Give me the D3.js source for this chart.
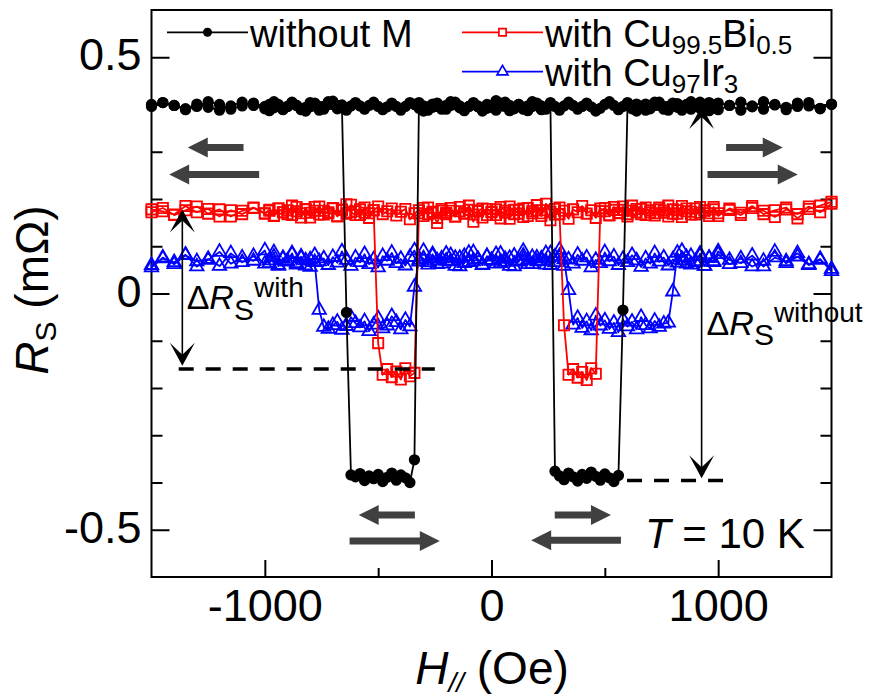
<!DOCTYPE html>
<html>
<head>
<meta charset="utf-8">
<script src="https://cdnjs.cloudflare.com/ajax/libs/d3/7.8.5/d3.min.js"></script>
<style>
  html, body { margin: 0; padding: 0; background: #fff; }
  svg { display: block; font-family: "Liberation Sans", Arial, Helvetica, sans-serif; }
  text { white-space: pre; }
</style>
</head>
<body>
<svg id="chart" width="879" height="697"></svg>
<script>
// Field sweep from +1500 Oe down to -1500 Oe (coarse steps beyond |H| = 1000 Oe)
const fieldDown = [1500,1450,1400,1350,1300,1250,1200,1150,1100,1050,1000,980,960,940,920,900,880,860,840,820,800,780,760,740,720,700,680,660,640,620,600,580,560,540,520,500,480,460,440,420,400,380,360,340,320,300,280,260,240,220,200,180,160,140,120,100,80,60,40,20,0,-20,-40,-60,-80,-100,-120,-140,-160,-180,-200,-220,-240,-260,-280,-300,-320,-340,-360,-380,-400,-420,-440,-460,-480,-500,-520,-540,-560,-580,-600,-620,-640,-660,-680,-700,-720,-740,-760,-780,-800,-820,-840,-860,-880,-900,-920,-940,-960,-980,-1000,-1050,-1100,-1150,-1200,-1250,-1300,-1350,-1400,-1450,-1500];
// Return sweep from -1500 Oe up to +1500 Oe
const fieldUp = [-1500,-1450,-1400,-1350,-1300,-1250,-1200,-1150,-1100,-1050,-1000,-980,-960,-940,-920,-900,-880,-860,-840,-820,-800,-780,-760,-740,-720,-700,-680,-660,-640,-620,-600,-580,-560,-540,-520,-500,-480,-460,-440,-420,-400,-380,-360,-340,-320,-300,-280,-260,-240,-220,-200,-180,-160,-140,-120,-100,-80,-60,-40,-20,0,20,40,60,80,100,120,140,160,180,200,220,240,260,280,300,320,340,360,380,400,420,440,460,480,500,520,540,560,580,600,620,640,660,680,700,720,740,760,780,800,820,840,860,880,900,920,940,960,980,1000,1050,1100,1150,1200,1250,1300,1350,1400,1450,1500];

// Nonlocal spin signal R_S (mOhm), without middle wire
const blackDown = [0.400,0.392,0.404,0.396,0.389,0.399,0.406,0.395,0.388,0.398,0.403,
  0.394,0.387,0.397,0.405,0.396,0.390,0.400,0.393,0.402,0.397,
  0.388,0.396,0.405,0.398,0.391,0.401,0.394,0.386,0.397,0.404,
  0.396,0.389,0.398,0.406,0.400,0.392,0.386,0.395,0.403,0.396,
  0.390,0.398,0.405,0.397,0.388,0.396,0.404,0.394,0.389,0.399,
  0.406,0.397,0.390,0.400,0.394,0.387,0.396,0.403,0.408,0.398,
  0.392,0.386,0.395,0.401,0.396,0.389,0.397,0.405,0.398,0.390,
  0.396,0.403,0.394,0.388,0.397,0.404,
  -0.352,
  -0.400,-0.390,-0.384,-0.395,-0.380,-0.389,-0.398,-0.383,-0.392,-0.386,-0.396,-0.381,-0.388,-0.384,
  -0.040,
  0.399,0.391,0.400,0.406,0.396,0.388,0.397,0.404,0.394,0.389,0.398,0.405,0.396,0.390,0.400,0.393,0.387,0.396,
  0.403,0.397,0.390,0.400,0.406,0.396,0.389,0.398,0.404,0.400];
const blackUp = [0.396,0.404,0.398,0.391,0.401,0.394,0.388,0.397,0.405,0.398,0.391,
  0.400,0.406,0.397,0.389,0.396,0.404,0.398,0.391,0.386,0.395,
  0.403,0.396,0.390,0.400,0.407,0.398,0.393,0.388,0.397,0.404,
  0.397,0.390,0.398,0.405,0.396,0.389,0.395,0.403,0.396,0.388,
  0.396,0.404,0.400,0.392,0.386,0.395,0.401,0.396,0.390,0.398,
  0.406,0.400,0.393,0.387,0.396,0.404,0.397,0.390,0.400,0.394,
  0.388,0.397,0.405,0.398,0.391,0.400,0.394,0.387,0.396,0.403,
  0.397,0.390,0.398,
  -0.376,-0.386,-0.394,-0.380,-0.388,-0.397,-0.383,-0.391,-0.378,-0.387,-0.395,-0.382,-0.390,-0.398,-0.385,
  -0.035,
  0.398,0.391,0.401,0.394,0.388,0.397,0.405,0.398,0.390,0.396,0.403,0.394,0.388,0.398,0.406,0.400,0.392,0.397,0.404,0.396,0.389,
  0.398,0.405,0.397,0.390,0.400,0.394,0.403,0.397,0.391,0.401];

// With Cu99.5Bi0.5 middle wire
const redDown = [0.190,0.172,0.184,0.168,0.178,0.162,0.175,0.181,0.166,0.177,0.170,
  0.183,0.164,0.176,0.171,0.180,0.167,0.174,0.185,0.169,0.178,
  0.163,0.175,0.182,0.170,0.176,0.166,0.179,0.172,0.186,0.168,
  0.177,0.171,0.183,0.165,0.174,0.180,0.160,0.176,0.169,0.185,
  0.172,0.178,0.158,0.175,0.182,0.167,0.173,0.190,0.164,0.176,
  0.170,0.181,0.162,0.177,0.168,0.184,0.171,0.159,0.178,0.173,
  0.166,0.180,0.174,0.152,0.177,0.169,0.183,0.163,0.175,0.171,
  0.179,0.160,0.173,0.168,0.181,0.170,
  -0.168,-0.175,-0.158,-0.182,-0.165,-0.177,-0.160,-0.172,
  -0.105,
  0.176,0.170,0.182,0.166,0.174,0.188,0.169,0.177,0.163,0.180,0.172,0.167,0.184,0.175,0.161,0.178,0.170,0.183,0.166,0.176,0.172,0.180,0.164,0.175,0.169,
  0.181,0.168,0.176,0.163,0.179,0.172,0.185,0.167,0.174,0.178];
const redUp = [0.172,0.181,0.166,0.176,0.184,0.169,0.178,0.163,0.175,0.182,0.170,
  0.177,0.165,0.180,0.172,0.168,0.186,0.174,0.161,0.179,0.171,
  0.183,0.167,0.175,0.170,0.181,0.164,0.177,0.189,0.172,0.166,
  0.178,0.171,0.160,0.176,0.184,0.168,0.174,0.180,0.165,0.173,
  0.179,0.157,0.170,0.176,0.164,0.182,0.171,0.149,0.175,0.168,
  0.181,0.163,0.174,0.170,0.186,0.167,0.176,0.161,0.179,0.172,
  0.166,0.183,0.175,0.158,0.177,0.169,0.180,0.164,0.174,0.187,
  0.170,0.176,0.155,0.179,0.168,
  -0.067,
  -0.172,-0.160,-0.178,-0.166,-0.183,-0.158,-0.170,
  0.174,0.181,0.166,0.177,0.170,0.184,0.163,0.175,0.179,0.168,0.182,0.172,0.165,0.178,0.171,0.186,0.169,0.176,0.162,0.180,0.173,0.167,0.183,0.175,0.170,0.178,0.164,
  0.180,0.171,0.185,0.168,0.176,0.182,0.159,0.179,0.186,0.194];

// With Cu97Ir3 middle wire
const blueDown = [0.052,0.071,0.060,0.078,0.064,0.088,0.069,0.057,0.074,0.062,0.083,
  0.066,0.075,0.058,0.080,0.068,0.061,0.077,0.090,0.065,0.072,
  0.059,0.076,0.067,0.085,0.063,0.074,0.056,0.070,0.081,0.066,
  0.073,0.060,0.078,0.068,0.087,0.064,0.071,0.055,0.076,0.069,
  0.082,0.063,0.072,0.058,0.079,0.066,0.085,0.061,0.074,0.068,
  0.077,0.062,0.080,0.070,0.057,0.075,0.067,0.084,0.063,0.071,
  0.079,0.060,0.073,0.068,0.086,0.064,0.075,0.058,0.081,0.069,
  0.074,0.062,0.083,0.066,0.090,0.071,
  0.014,
  -0.070,-0.056,-0.076,-0.061,-0.048,-0.068,-0.074,-0.053,-0.066,-0.080,-0.059,-0.072,-0.063,-0.050,-0.069,-0.077,-0.060,-0.067,-0.075,-0.071,
  -0.035,
  0.066,0.072,0.059,0.078,0.064,0.083,0.069,0.075,0.060,0.087,0.070,0.063,
  0.079,0.066,0.085,0.058,0.073,0.068,0.081,0.062,0.076,0.055];
const blueUp = [0.060,0.074,0.066,0.082,0.057,0.071,0.088,0.063,0.076,0.069,0.091,
  0.064,0.078,0.058,0.073,0.067,0.085,0.061,0.075,0.070,0.056,
  0.081,0.068,0.074,0.060,0.077,0.065,0.089,0.071,0.058,0.076,
  0.066,0.083,0.062,0.072,0.055,0.079,0.069,0.086,0.064,0.073,
  0.059,0.077,0.091,0.067,0.074,0.061,0.080,0.070,0.063,0.084,
  0.068,0.075,0.057,0.079,0.066,0.087,0.072,0.061,0.078,0.069,
  0.083,0.064,0.073,0.058,0.080,0.067,0.090,0.071,0.062,0.076,
  0.069,0.085,0.060,0.078,0.092,0.072,
  0.007,
  -0.066,-0.052,-0.073,-0.059,-0.078,-0.047,-0.068,-0.057,-0.075,-0.062,-0.082,-0.055,-0.070,-0.060,-0.076,-0.050,-0.067,-0.074,-0.058,-0.071,-0.064,-0.062,
  0.004,
  0.086,0.070,0.063,0.079,0.066,0.084,0.058,0.075,0.068,0.089,
  0.071,0.064,0.080,0.057,0.076,0.068,0.085,0.062,0.073,0.047];

const xTicksMajor = [-1000, 0, 1000];
const xTicksMinor = [-500, 500];
const yTicksMajor = [-0.5, 0, 0.5];
const yTicksMinor = [-0.4, -0.3, -0.2, -0.1, 0.1, 0.2, 0.3, 0.4];

// Magnetisation-direction arrows of the two ferromagnets: [tail H, tip H, R]
const magnetArrows = [
  [-1094, -1340, 0.309], [-1025, -1422, 0.252],
  [1035, 1285, 0.309], [953, 1351, 0.252],
  [-338, -586, -0.469], [-626, -228, -0.524],
  [279, 527, -0.469], [571, 175, -0.522]
];
// Spin-signal amplitude markers: [H, R top, R bottom]
const deltaWith = [-1364, 0.178, -0.153];
const deltaWithout = [927, 0.397, -0.391];
// Dashed reference levels: [H start, H end, R]
const refLevels = [[-1380, -250, -0.160], [598, 1038, -0.396]];

const svg = d3.select("#chart");
const x = d3.scaleLinear().domain([-1500, 1500]).range([151.5, 831.5]);
const y = d3.scaleLinear().domain([-0.6, 0.6]).range([577, 10]);
const FONT = 45;

// ---- frame and ticks ----
const axes = svg.append("g");
function styleAxis(g) {
  g.select(".domain").remove();
  g.selectAll(".tick line").attr("stroke", "#000").attr("stroke-width", 2);
  g.selectAll("text").attr("fill", "#000").attr("font-size", FONT).attr("font-family", null);
}
axes.append("g").attr("transform", "translate(0,577)")
  .call(d3.axisBottom(x).tickValues(xTicksMajor).tickSize(-17).tickSizeOuter(0).tickPadding(12).tickFormat(d => String(d)))
  .call(styleAxis);
axes.append("g").attr("transform", "translate(0,577)")
  .call(d3.axisBottom(x).tickValues(xTicksMinor).tickSize(-9).tickSizeOuter(0).tickFormat(""))
  .call(styleAxis);
axes.append("g").attr("transform", "translate(151.5,0)")
  .call(d3.axisLeft(y).tickValues(yTicksMajor).tickSize(-18).tickSizeOuter(0).tickPadding(10).tickFormat(d => String(d)))
  .call(styleAxis)
  .call(g => g.selectAll("text").attr("dy", "0.28em"));
axes.append("g").attr("transform", "translate(151.5,0)")
  .call(d3.axisLeft(y).tickValues(yTicksMinor).tickSize(-11).tickSizeOuter(0).tickFormat(""))
  .call(styleAxis);
axes.append("g").attr("transform", "translate(831.5,0)")
  .call(d3.axisRight(y).tickValues(yTicksMajor).tickSize(-18).tickSizeOuter(0).tickFormat(""))
  .call(styleAxis);
axes.append("g").attr("transform", "translate(831.5,0)")
  .call(d3.axisRight(y).tickValues(yTicksMinor).tickSize(-11).tickSizeOuter(0).tickFormat(""))
  .call(styleAxis);
svg.append("rect").attr("x", x(-1500)).attr("y", y(0.6))
  .attr("width", x(1500) - x(-1500)).attr("height", y(-0.6) - y(0.6))
  .attr("fill", "none").attr("stroke", "#000").attr("stroke-width", 2);

// ---- rich text helper (italic / sub / superscript runs) ----
function rich(parent, px, py, parts, anchor) {
  const t = parent.append("text").attr("x", px).attr("y", py)
    .attr("text-anchor", anchor || "start").attr("fill", "#000");
  parts.forEach(p => {
    const s = t.append("tspan").text(p.t).attr("font-size", p.size);
    if (p.italic) s.attr("font-style", "italic");
    if (p.dy) s.attr("dy", p.dy);
  });
  return t;
}

// ---- magnetisation arrows (grey block arrows) ----
const arrowG = svg.append("g").attr("fill", "#404040");
magnetArrows.forEach(([h0, h1, r]) => {
  const x0 = x(h0), x1 = x(h1), yy = y(r);
  const dir = Math.sign(x1 - x0), head = 20, hw = 10, sw = 3.5;
  const xb = x1 - dir * head;
  const pts = [[x0, yy - sw], [xb, yy - sw], [xb, yy - hw], [x1, yy], [xb, yy + hw], [xb, yy + sw], [x0, yy + sw]];
  arrowG.append("path").attr("d", "M" + pts.map(p => p.join(",")).join("L") + "Z");
});

// ---- data ----
function sweep(fields, values) { return fields.map((h, i) => ({ h: h, r: values[i] })); }
const series = [
  { name: "with Cu97Ir3", color: "#0000ff", symbol: d3.symbolTriangle, size: 78, fill: "none",
    pts: sweep(fieldDown, blueDown).concat(sweep(fieldUp, blueUp)) },
  { name: "with Cu99.5Bi0.5", color: "#ff0000", symbol: d3.symbolSquare, size: 105, fill: "none",
    pts: sweep(fieldDown, redDown).concat(sweep(fieldUp, redUp)) },
  { name: "without M", color: "#000000", symbol: d3.symbolCircle, size: 100, fill: "#000000",
    pts: sweep(fieldDown, blackDown).concat(sweep(fieldUp, blackUp)) }
];
const line = d3.line().x(d => x(d.h)).y(d => y(d.r));
series.forEach(s => {
  const g = svg.append("g");
  g.append("path").datum(s.pts).attr("d", line)
    .attr("fill", "none").attr("stroke", s.color).attr("stroke-width", 1.8).attr("stroke-linejoin", "round");
  g.selectAll("path.pt").data(s.pts).join("path").attr("class", "pt")
    .attr("transform", d => `translate(${x(d.h)},${y(d.r)})`)
    .attr("d", d3.symbol().type(s.symbol).size(s.size))
    .attr("fill", s.fill)
    .attr("stroke", s.fill === "none" ? s.color : "none")
    .attr("stroke-width", 1.8);
});

// ---- dashed reference levels ----
refLevels.forEach(([h0, h1, r]) => {
  svg.append("line").attr("x1", x(h0)).attr("x2", x(h1)).attr("y1", y(r)).attr("y2", y(r))
    .attr("stroke", "#000").attr("stroke-width", 3.5).attr("stroke-dasharray", "15,12");
});

// ---- double-headed amplitude arrows ----
function headPath(tx, ty, dirY) {
  const len = 23, half = 12.5, notch = 11;
  const by = ty - dirY * len;
  return `M${tx},${ty}L${tx + half},${by}L${tx},${ty - dirY * notch}L${tx - half},${by}Z`;
}
[deltaWith, deltaWithout].forEach(([h, rTop, rBot]) => {
  const xx = x(h), yt = y(rTop), yb = y(rBot);
  svg.append("line").attr("x1", xx).attr("x2", xx).attr("y1", yt + 10).attr("y2", yb - 10)
    .attr("stroke", "#000").attr("stroke-width", 1.6);
  svg.append("path").attr("d", headPath(xx, yt, -1)).attr("fill", "#000");
  svg.append("path").attr("d", headPath(xx, yb, 1)).attr("fill", "#000");
});

// ---- annotation labels ----
rich(svg, x(-1345), y(-0.0334), [
  { t: "\u0394", size: 34 }, { t: "R", size: 34, italic: true },
  { t: "S", size: 30, dy: 10.7 }, { t: "with", size: 28, dy: -23.3 }]);
rich(svg, x(949), y(-0.0878), [
  { t: "\u0394", size: 34 }, { t: "R", size: 34, italic: true },
  { t: "S", size: 30, dy: 10 }, { t: "without", size: 28, dy: -23.3 }]);
rich(svg, x(677), y(-0.5386), [
  { t: "T", size: 42, italic: true }, { t: " = 10 K", size: 42 }]);

// ---- axis titles ----
rich(svg, 492, 684, [
  { t: "H", size: 46, italic: true }, { t: "//", size: 28, italic: true, dy: 8 },
  { t: " (Oe)", size: 46, dy: -8 }], "middle");
const yTitle = svg.append("g").attr("transform", "translate(48,290) rotate(-90)");
rich(yTitle, 0, 0, [
  { t: "R", size: 46, italic: true }, { t: "S", size: 30, dy: 8 },
  { t: " (m\u03A9)", size: 46, dy: -8 }], "middle");

// ---- legend ----
const legend = svg.append("g");
const legendRows = [
  { s: series[2], lx: 167, ly: 32.3, tx: 250, ty: 46.7,
    parts: [{ t: "without M", size: 38 }] },
  { s: series[1], lx: 462, ly: 32.3, tx: 545, ty: 46.7,
    parts: [{ t: "with Cu", size: 38 }, { t: "99.5", size: 26, dy: 7 }, { t: "Bi", size: 38, dy: -7 }, { t: "0.5", size: 26, dy: 7 }] },
  { s: series[0], lx: 462, ly: 71.7, tx: 545, ty: 86,
    parts: [{ t: "with Cu", size: 38 }, { t: "97", size: 26, dy: 7 }, { t: "Ir", size: 38, dy: -7 }, { t: "3", size: 26, dy: 7 }] }
];
legendRows.forEach(row => {
  legend.append("line").attr("x1", row.lx).attr("x2", row.lx + 81).attr("y1", row.ly).attr("y2", row.ly)
    .attr("stroke", row.s.color).attr("stroke-width", 1.8);
  legend.append("path").attr("transform", `translate(${row.lx + 40.5},${row.ly})`)
    .attr("d", d3.symbol().type(row.s.symbol).size(row.s.symbol === d3.symbolCircle ? 64 : 52))
    .attr("fill", row.s.fill === "none" ? "#fff" : row.s.fill)
    .attr("stroke", row.s.fill === "none" ? row.s.color : "none").attr("stroke-width", 1.7);
  rich(legend, row.tx, row.ty, row.parts);
});
</script>
</body>
</html>
